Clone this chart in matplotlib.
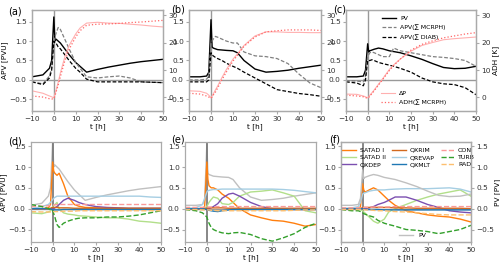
import matplotlib
matplotlib.use("Agg")
import matplotlib.pyplot as plt
import numpy as np

# time grid [h]
t = [-10, -5, -2, -1, 0, 0.5, 1, 2, 3, 5, 7, 10, 12, 15, 20, 25, 30, 35, 40, 45, 50]

# ---- top row (APV [PVU] left, ADH [K] right) ----
pv_a    = [0.08,0.13,0.3,0.5,1.62,1.0,1.05,1.0,0.95,0.8,0.65,0.45,0.35,0.2,0.27,0.33,0.38,0.43,0.47,0.5,0.53]
mcrph_a = [-0.05,-0.1,0.1,0.3,0.9,1.1,1.2,1.35,1.3,1.05,0.8,0.45,0.3,0.08,0.05,0.08,0.1,0.05,-0.05,-0.06,-0.07]
diab_a  = [-0.05,-0.12,0.05,0.25,1.0,0.95,0.95,0.85,0.8,0.65,0.5,0.3,0.2,0.02,-0.05,-0.05,-0.05,-0.05,-0.05,-0.06,-0.07]
dp_a    = [2.4,1.5,0.5,0.2,-0.2,1.2,2.6,5.5,9.0,14.7,19.0,23.2,25.4,27.2,27.5,27.2,27.1,26.8,26.5,26.1,25.8]
adh_a   = [0.5,0.1,-0.5,-0.6,-0.5,0.5,1.9,4.5,7.6,13.3,17.6,22.1,24.4,26.4,26.8,26.9,27.1,27.4,27.6,27.9,28.2]

pv_b    = [0.08,0.08,0.1,0.2,1.55,0.85,0.82,0.8,0.78,0.77,0.76,0.75,0.7,0.5,0.28,0.2,0.22,0.25,0.3,0.34,0.38]
mcrph_b = [0.0,0.0,0.02,0.1,0.95,1.0,1.05,1.12,1.1,1.05,1.0,0.95,0.95,0.72,0.62,0.6,0.55,0.42,0.15,-0.08,-0.2]
diab_b  = [-0.05,-0.05,-0.05,0.0,0.7,0.65,0.62,0.58,0.55,0.5,0.43,0.35,0.3,0.2,0.05,-0.1,-0.25,-0.3,-0.35,-0.38,-0.42]
dp_b    = [2.4,2.2,1.5,0.8,-0.2,0.5,1.2,2.7,4.1,7.3,10.2,14.0,15.9,19.0,22.5,24.0,24.0,23.8,23.8,23.7,23.7]
adh_b   = [1.5,1.2,0.5,0.1,-0.3,0.1,0.8,1.9,3.4,6.5,9.3,13.3,15.4,18.7,22.1,24.0,24.4,24.7,24.7,24.7,24.5]

pv_c    = [0.08,0.08,0.1,0.25,0.93,0.72,0.75,0.77,0.79,0.82,0.8,0.75,0.73,0.7,0.62,0.53,0.42,0.32,0.29,0.3,0.35]
mcrph_c = [-0.02,-0.03,-0.05,0.1,0.6,0.65,0.7,0.72,0.7,0.65,0.6,0.6,0.82,0.75,0.7,0.65,0.6,0.58,0.55,0.5,0.35]
diab_c  = [-0.05,-0.08,-0.15,0.0,0.5,0.5,0.5,0.52,0.5,0.45,0.42,0.38,0.35,0.3,0.2,0.05,-0.05,-0.1,-0.12,-0.2,-0.38]
dp_c    = [1.2,1.1,0.5,0.2,-0.2,0.2,0.8,1.7,2.7,4.8,6.9,10.2,11.9,14.0,16.9,19.0,20.1,21.1,21.5,21.8,22.1]
adh_c   = [0.8,0.5,0.2,-0.1,-0.3,0.0,0.5,1.4,2.4,4.5,6.6,9.8,11.6,14.0,17.3,19.4,20.7,21.8,22.5,23.2,23.7]

# ---- bottom row (process APV [PVU]) ----
satad1_d = [0,0.0,0.02,0.1,1.12,0.9,0.85,0.8,0.85,0.6,0.3,0.1,0.06,0.03,0.02,0.01,0.01,0.0,0.0,0.0,0.0]
satad2_d = [-0.1,-0.12,-0.08,-0.05,0.05,0.08,0.1,0.15,0.0,-0.1,-0.13,-0.15,-0.17,-0.18,-0.2,-0.22,-0.22,-0.25,-0.3,-0.32,-0.35]
qxdep_d  = [0,0,0,0,0,0.0,0.02,0.05,0.1,0.2,0.25,0.2,0.15,0.1,0.05,0.03,0.02,0.01,0.01,0.01,0.01]
qxrim_d  = [0,0,0,0.01,0.03,0.03,0.03,0.03,0.02,0.02,0.02,0.01,0.01,0.01,0.01,0.01,0.01,0.01,0.01,0.01,0.01]
qrevap_d = [0.0,0.05,0.1,0.15,0.22,0.25,0.27,0.3,0.3,0.3,0.3,0.3,0.3,0.3,0.3,0.3,0.3,0.3,0.3,0.28,0.27]
qxmlt_d  = [0,0,0,-0.01,-0.03,-0.03,-0.03,-0.03,-0.03,-0.02,-0.02,-0.02,-0.02,-0.02,-0.02,-0.02,-0.02,-0.02,-0.02,-0.02,-0.02]
con_d    = [0.05,0.06,0.07,0.08,0.08,0.09,0.09,0.1,0.1,0.1,0.1,0.1,0.1,0.1,0.1,0.1,0.1,0.1,0.1,0.1,0.1]
turb_d   = [0.1,0.05,0.0,-0.02,-0.05,-0.12,-0.2,-0.38,-0.45,-0.35,-0.3,-0.25,-0.23,-0.22,-0.22,-0.2,-0.2,-0.18,-0.15,-0.1,-0.05]
rad_d    = [-0.07,-0.08,-0.08,-0.08,-0.08,-0.07,-0.07,-0.07,-0.07,-0.06,-0.06,-0.06,-0.05,-0.05,-0.05,-0.05,-0.05,-0.05,-0.05,-0.05,-0.05]

satad1_e = [0,0,0.0,0.05,1.12,0.7,0.55,0.5,0.5,0.45,0.35,0.25,0.15,0.0,-0.15,-0.22,-0.28,-0.3,-0.35,-0.42,-0.38]
satad2_e = [0,0,0,0.0,0.05,0.1,0.15,0.22,0.28,0.25,0.12,0.1,0.15,0.3,0.4,0.42,0.45,0.38,0.3,-0.05,-0.1]
qxdep_e  = [0,0,0,0,0,0,0,0.02,0.05,0.12,0.25,0.35,0.37,0.3,0.15,0.05,0.0,-0.01,-0.02,-0.02,-0.02]
qxrim_e  = [0,0,0,0,0.01,0.02,0.02,0.02,0.02,0.02,0.02,0.01,0.01,0.01,0.01,0.01,0.01,0.01,0.01,0.01,0.01]
qrevap_e = [0,0.02,0.1,0.25,0.4,0.43,0.44,0.45,0.46,0.46,0.47,0.47,0.47,0.47,0.47,0.47,0.47,0.46,0.44,0.41,0.38]
qxmlt_e  = [0,0,0,-0.01,-0.02,-0.03,-0.04,-0.05,-0.06,-0.07,-0.05,-0.03,-0.02,-0.02,-0.02,-0.02,-0.02,-0.02,-0.02,-0.02,-0.02]
con_e    = [0.03,0.03,0.03,0.04,0.04,0.04,0.04,0.04,0.04,0.05,0.05,0.05,0.05,0.05,0.05,0.05,0.05,0.05,0.05,0.05,0.05]
turb_e   = [-0.02,-0.05,-0.1,-0.15,-0.2,-0.28,-0.35,-0.45,-0.5,-0.55,-0.58,-0.6,-0.58,-0.57,-0.62,-0.72,-0.78,-0.7,-0.6,-0.45,-0.35]
rad_e    = [-0.02,-0.02,-0.03,-0.03,-0.03,-0.03,-0.03,-0.04,-0.04,-0.05,-0.05,-0.05,-0.05,-0.05,-0.05,-0.05,-0.05,-0.05,-0.04,-0.03,-0.03]

satad1_f = [0,0,0,0.05,0.6,0.45,0.4,0.42,0.45,0.5,0.45,0.3,0.2,0.08,-0.05,-0.1,-0.15,-0.18,-0.2,-0.25,-0.32]
satad2_f = [0,0,0,-0.02,-0.05,-0.08,-0.1,-0.15,-0.2,-0.3,-0.35,-0.25,-0.08,0.0,0.1,0.2,0.28,0.35,0.4,0.45,0.3]
qxdep_f  = [0,0,0,0,0,0,0,0.01,0.02,0.05,0.1,0.15,0.2,0.28,0.28,0.2,0.1,0.03,-0.05,-0.08,-0.1]
qxrim_f  = [0,0,0,0.01,0.02,0.03,0.03,0.03,0.03,0.03,0.03,0.03,0.03,0.02,0.02,0.01,0.01,0.01,0.01,0.01,0.0]
qrevap_f = [0,0.02,0.05,0.15,0.35,0.37,0.38,0.4,0.42,0.44,0.45,0.45,0.46,0.47,0.48,0.48,0.48,0.49,0.5,0.47,0.4]
qxmlt_f  = [0,0,0,0,0,-0.01,-0.01,-0.02,-0.02,-0.02,-0.02,-0.03,-0.03,-0.03,-0.03,-0.03,-0.03,-0.03,-0.03,-0.03,-0.03]
con_f    = [0.02,0.02,0.02,0.02,0.03,0.03,0.03,0.03,0.03,0.04,0.04,0.04,0.04,0.05,0.05,0.05,0.05,0.05,0.05,0.05,0.05]
turb_f   = [-0.02,-0.05,-0.05,-0.07,-0.1,-0.12,-0.13,-0.15,-0.17,-0.2,-0.28,-0.35,-0.38,-0.42,-0.5,-0.52,-0.55,-0.6,-0.55,-0.5,-0.4]
rad_f    = [-0.02,-0.02,-0.02,-0.02,-0.02,-0.02,-0.03,-0.03,-0.03,-0.04,-0.05,-0.05,-0.06,-0.07,-0.08,-0.1,-0.12,-0.14,-0.15,-0.15,-0.15]

process_names = ["SATAD I", "SATAD II", "QXDEP", "QXRIM", "QREVAP", "QXMLT", "CON", "TURB", "RAD"]
process_colors = ["#ff7f0e", "#b2df8a", "#7b4fb0", "#d2691e", "#a6cee3", "#1f78b4", "#fb9a99", "#33a02c", "#fdbf6f"]
process_styles = ["-", "-", "-", "-", "-", "-", "--", "--", "--"]

FS = 5.3
plt.rcParams.update({"font.size": FS, "axes.edgecolor": "#aaaaaa",
                     "xtick.color": "#aaaaaa", "ytick.color": "#aaaaaa",
                     "xtick.labelcolor": "#333333", "ytick.labelcolor": "#333333",
                     "xtick.major.size": 2.2, "ytick.major.size": 2.2,
                     "axes.linewidth": 0.9})

fig = plt.figure(figsize=(5, 2.66), dpi=100)

def fpos(l, top, r, bot):
    W, H = 500.0, 266.0
    return [l / W, (H - bot) / H, (r - l) / W, (bot - top) / H]

top_boxes = [(32, 10, 163, 111), (189, 10, 321, 111), (346, 10, 476, 111)]
bot_boxes = [(31, 142, 161, 242), (185, 142, 316, 242), (341, 142, 471, 242)]

top_data = [(pv_a, mcrph_a, diab_a, dp_a, adh_a),
            (pv_b, mcrph_b, diab_b, dp_b, adh_b),
            (pv_c, mcrph_c, diab_c, dp_c, adh_c)]
top_labels = ["(a)", "(b)", "(c)"]
top_label_pos = [(8, 11), (171, 9), (333, 9)]

for i, (box, data) in enumerate(zip(top_boxes, top_data)):
    pv, mc, di, dp, adh = data
    ax = fig.add_axes(fpos(*box))
    ax.axvline(0, color="0.6", lw=1, zorder=1)
    ax.axhline(0, color="0.6", lw=1, zorder=1)
    l1, = ax.plot(t, pv, color="k", lw=1.0, label="PV")
    l2, = ax.plot(t, mc, color="0.5", lw=0.9, ls="--", dashes=(3, 1.5), label="APV(∑ MCRPH)")
    l3, = ax.plot(t, di, color="k", lw=0.9, ls="--", dashes=(3, 1.5), label="APV(∑ DIAB)")
    ax.set_xlim(-10, 50)
    ax.set_ylim(-0.8, 1.8)
    ax.set_xticks([-10, 0, 10, 20, 30, 40, 50])
    ax.set_yticks([-0.5, 0.0, 0.5, 1.0, 1.5])
    ax.set_xlabel("t [h]", labelpad=1)
    ax.tick_params(pad=1.5)
    if i == 0:
        ax.set_ylabel("APV [PVU]", labelpad=1)
    ax2 = ax.twinx()
    r1, = ax2.plot(t, dp, color="#ffb0b0", lw=0.8, label="ΔP")
    r2, = ax2.plot(t, adh, color="#ff6666", lw=0.9, ls=":", label="ADH(∑ MCRPH)")
    ax2.set_ylim(-5, 32)
    ax2.set_yticks([0, 10, 20, 30])
    ax2.tick_params(pad=1.5)
    if i == 2:
        ax2.set_ylabel("ADH [K]", labelpad=1)
        ax.legend(handles=[l1, l2, l3], loc="upper center", bbox_to_anchor=(0.52, 1.0),
                  frameon=False, fontsize=4.5, handlelength=2.3, labelspacing=0.6,
                  handletextpad=0.6)
        ax2.legend(handles=[r1, r2], loc="lower center", bbox_to_anchor=(0.52, 0.0),
                   frameon=False, fontsize=4.5, handlelength=2.3, labelspacing=0.6,
                   handletextpad=0.6)
    fig.text(top_label_pos[i][0] / 500, 1 - top_label_pos[i][1] / 266, top_labels[i],
             fontsize=7, va="center", ha="left")

bot_data = [
    (pv_a, [satad1_d, satad2_d, qxdep_d, qxrim_d, qrevap_d, qxmlt_d, con_d, turb_d, rad_d]),
    (pv_b, [satad1_e, satad2_e, qxdep_e, qxrim_e, qrevap_e, qxmlt_e, con_e, turb_e, rad_e]),
    (pv_c, [satad1_f, satad2_f, qxdep_f, qxrim_f, qrevap_f, qxmlt_f, con_f, turb_f, rad_f]),
]
bot_labels = ["(d)", "(e)", "(f)"]
bot_label_pos = [(8, 141), (171, 139), (329, 139)]

for i, (box, (pv, series)) in enumerate(zip(bot_boxes, bot_data)):
    ax = fig.add_axes(fpos(*box))
    ax.axvline(0, color="0.45", lw=1.2, zorder=1)
    ax.axhline(0, color="0.6", lw=1, zorder=1)
    handles = []
    for s, name, c, ls in zip(series, process_names, process_colors, process_styles):
        h, = ax.plot(t, s, color=c, lw=1.0, ls=ls, label=name)
        handles.append(h)
    ax.set_xlim(-10, 50)
    ax.set_ylim(-0.8, 1.6)
    ax.set_xticks([-10, 0, 10, 20, 30, 40, 50])
    ax.set_yticks([-0.5, 0.0, 0.5, 1.0, 1.5])
    ax.set_xlabel("t [h]", labelpad=1)
    ax.tick_params(pad=1.5)
    if i == 0:
        ax.set_ylabel("APV [PVU]", labelpad=1)
    if i == 2:
        ax2 = ax.twinx()
        hp, = ax2.plot(t, pv, color="#c0c0c0", lw=1.0, label="PV")
        ax2.set_ylim(-0.8, 1.6)
        ax2.set_yticks([-0.5, 0.0, 0.5, 1.0, 1.5])
        ax2.tick_params(pad=1.5)
        ax2.set_ylabel("PV [PV]", labelpad=0.5)
        ax.legend(handles=handles, loc="upper center", ncol=3, bbox_to_anchor=(0.52, 1.0),
                  frameon=False, fontsize=4.5, handlelength=2.2, labelspacing=0.3,
                  columnspacing=1.0, handletextpad=0.6)
        ax2.legend(handles=[hp], loc="lower center", bbox_to_anchor=(0.55, -0.02),
                   frameon=False, fontsize=4.5, handlelength=2.2, handletextpad=0.8)
    else:
        ax.plot(t, pv, color="#c0c0c0", lw=1.0, zorder=0.5)
    fig.text(bot_label_pos[i][0] / 500, 1 - bot_label_pos[i][1] / 266, bot_labels[i],
             fontsize=7, va="center", ha="left")

fig.savefig("out.png", dpi=100)
